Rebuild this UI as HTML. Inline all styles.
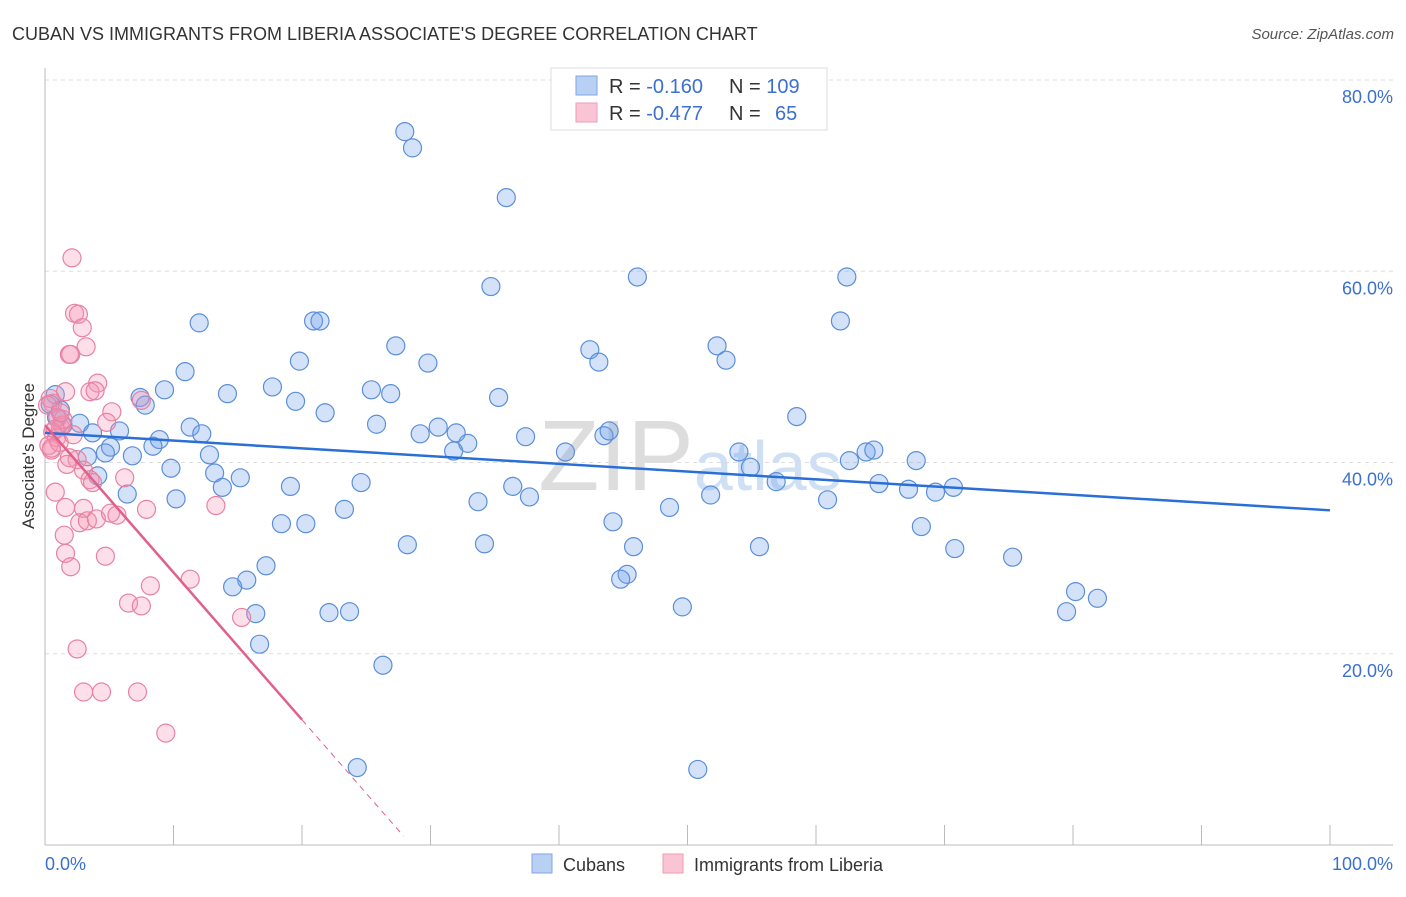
<!DOCTYPE html>
<html><head><meta charset="utf-8"><style>
body{margin:0;background:#fff;font-family:"Liberation Sans",sans-serif}
svg text{font-family:"Liberation Sans",sans-serif}
</style></head><body>
<svg id="chart" width="1406" height="892" xmlns="http://www.w3.org/2000/svg">
<text x="12" y="40" font-size="18" fill="#333">CUBAN VS IMMIGRANTS FROM LIBERIA ASSOCIATE'S DEGREE CORRELATION CHART</text>
<text x="1394" y="39" font-size="15" fill="#555" font-style="italic" text-anchor="end">Source: ZipAtlas.com</text>
<g id="grid"></g>
<text x="690" y="490" font-size="100" fill="#ddd" text-anchor="middle" font-family="Liberation Serif">ZIP<tspan font-size="70" fill="#cfe0f5" font-family="Liberation Sans">atlas</tspan></text>
<g id="pts"></g>
<g id="lines"></g>
<text x="34" y="456" font-size="17" fill="#333" text-anchor="middle" transform="rotate(-90 34 456)">Associate's Degree</text>
<text x="45" y="870" font-size="18" fill="#3b6fd0">0.0%</text>
<text x="1393" y="870" font-size="18" fill="#3b6fd0" text-anchor="end">100.0%</text>
<g>
<rect x="551" y="68" width="276" height="62" fill="#fff" stroke="#ddd"/>
<rect x="576" y="76" width="21" height="19" fill="#b8d0f3" stroke="#7fa6e3"/>
<rect x="576" y="103" width="21" height="19" fill="#f9c5d5" stroke="#ee9db6"/>
<text x="609" y="93" font-size="20" fill="#333">R = <tspan fill="#3b6fd0">-0.160</tspan><tspan x="729">N = </tspan><tspan fill="#3b6fd0">109</tspan></text>
<text x="609" y="120" font-size="20" fill="#333">R = <tspan fill="#3b6fd0">-0.477</tspan><tspan x="729">N = </tspan><tspan x="775" fill="#3b6fd0">65</tspan></text>
</g>
<g>
<rect x="532" y="854" width="20" height="19" fill="#b8d0f3" stroke="#7fa6e3"/>
<text x="563" y="871" font-size="18" fill="#333">Cubans</text>
<rect x="663" y="854" width="20" height="19" fill="#f9c5d5" stroke="#ee9db6"/>
<text x="694" y="871" font-size="18" fill="#333">Immigrants from Liberia</text>
</g>
</svg>
<script>
const yTicks=[20,40,60,80];
const xTickVals=[0,10,20,30,40,50,60,70,80,90,100];
const cubanX=[28.0,28.6,35.9,34.7,46.1,62.4,61.9,12.0,20.9,21.4,27.3,42.4,43.1,52.3,53.0,19.8,29.8,10.9,17.7,14.2,25.4,26.9,9.3,7.4,7.8,19.5,35.3,21.8,58.5,0.8,1.2,0.9,0.4,1.4,2.7,3.7,5.8,5.1,4.7,6.8,8.9,8.4,11.3,12.2,25.8,29.2,30.6,32.0,32.9,31.8,37.4,40.5,43.5,43.9,54.0,54.9,56.9,63.9,64.5,62.6,67.8,3.3,4.1,9.8,12.8,13.2,13.8,15.2,19.1,24.6,36.4,37.7,6.4,10.2,33.7,48.6,51.8,60.9,64.9,67.2,69.3,70.7,18.4,20.3,23.3,44.2,68.2,28.2,34.2,45.8,55.6,70.8,75.3,17.2,15.7,14.6,45.3,44.8,80.2,81.9,79.5,49.6,16.4,22.1,23.7,16.7,26.3,24.3,50.8];
const cubanY=[74.6,72.9,67.7,58.4,59.4,59.4,54.8,54.6,54.8,54.8,52.2,51.8,50.5,52.2,50.7,50.6,50.4,49.5,47.9,47.2,47.6,47.2,47.6,46.8,46.0,46.4,46.8,45.2,44.8,47.1,45.5,44.7,46.1,43.9,44.1,43.1,43.3,41.6,41.0,40.7,42.4,41.7,43.7,43.0,44.0,43.0,43.7,43.1,42.0,41.2,42.7,41.1,42.8,43.3,41.1,39.5,38.0,41.1,41.3,40.2,40.2,40.6,38.6,39.4,40.8,38.9,37.4,38.4,37.5,37.9,37.5,36.4,36.7,36.2,35.9,35.3,36.6,36.1,37.8,37.2,36.9,37.4,33.6,33.6,35.1,33.8,33.3,31.4,31.5,31.2,31.2,31.0,30.1,29.2,27.7,27.0,28.3,27.8,26.5,25.8,24.4,24.9,24.2,24.3,24.4,21.0,18.8,8.1,7.9];
const liberiaX=[2.1,2.3,2.6,2.9,1.9,3.2,2.0,4.1,3.5,3.9,1.6,5.2,4.8,7.5,0.6,1.2,0.5,2.5,1.9,3.0,3.5,3.7,6.2,0.8,1.6,3.0,2.7,3.3,4.0,5.1,5.6,7.9,13.3,1.5,1.6,2.0,4.7,8.2,11.3,6.5,7.5,15.3,2.5,3.0,4.4,7.2,9.4,0.4,0.2,1.0,1.3,0.6,0.9,0.3,1.1,1.4,1.2,0.5,0.8,2.2,1.7];
const liberiaY=[61.4,55.6,55.5,54.1,51.3,52.1,51.3,48.3,47.4,47.5,47.4,45.3,44.2,46.5,46.2,43.7,41.3,40.3,40.5,39.2,38.2,37.9,38.4,36.9,35.3,35.2,33.7,33.9,34.1,34.7,34.5,35.1,35.5,32.4,30.5,29.1,30.2,27.1,27.8,25.3,25.0,23.8,20.5,16.0,16.0,16.0,11.7,46.7,46.0,44.7,43.9,43.2,42.6,41.8,42.1,44.5,45.2,41.5,43.5,42.9,39.8];
const cubanTrend=[43.1,35.0];
const liberiaTrend=[43.9,13.1,20,27.9];
const NS='http://www.w3.org/2000/svg';
const X=v=>45+v*12.85, Y=v=>845-v*9.5625;
function mk(t,a,p){const e=document.createElementNS(NS,t);for(const k in a)e.setAttribute(k,a[k]);p.appendChild(e);return e;}
const grid=document.getElementById('grid');
for(const t of yTicks){
 const l=mk('line',{x1:45,x2:1393,y1:Y(t),y2:Y(t),stroke:'#ddd','stroke-dasharray':'4,4'},grid);
 
 
 const tx=mk('text',{x:1393,y:Y(t)+23,'font-size':18,fill:'#3b6fd0','text-anchor':'end'},grid);
 tx.textContent=t.toFixed(1)+'%';
 
 
}
const ax=mk('line',{x1:45,x2:1393,y1:845,y2:845,stroke:'#bbb'},grid);


const ay=mk('line',{x1:45,x2:45,y1:68,y2:845,stroke:'#bbb'},grid);


for(const v of xTickVals){
 const t=mk('line',{x1:X(v),x2:X(v),y1:825,y2:845,stroke:'#bbb'},grid);
 
 
}
const pts=document.getElementById('pts');
cubanX.forEach((x,i)=>{
 const c=mk('circle',{cx:X(x),cy:Y(cubanY[i]),r:9,fill:'rgba(110,160,235,0.3)',stroke:'#5b8fd9','stroke-width':1.2},pts);
 
 
});
liberiaX.forEach((x,i)=>{
 const c=mk('circle',{cx:X(x),cy:Y(liberiaY[i]),r:9,fill:'rgba(245,150,180,0.3)',stroke:'#e882a3','stroke-width':1.2},pts);
 
 
});
const lines=document.getElementById('lines');
const bl=mk('line',{x1:X(0),y1:Y(cubanTrend[0]),x2:X(100),y2:Y(cubanTrend[1]),stroke:'#2a6fd6','stroke-width':2.5},lines);


const slope=(liberiaTrend[1]-liberiaTrend[0])/liberiaTrend[2];
const pl=mk('line',{x1:X(0),y1:Y(liberiaTrend[0]),x2:X(liberiaTrend[2]),y2:Y(liberiaTrend[1]),stroke:'#e0608a','stroke-width':2.5},lines);


const pd=mk('line',{x1:X(liberiaTrend[2]),y1:Y(liberiaTrend[1]),x2:X(liberiaTrend[3]),y2:Y(liberiaTrend[0]+slope*liberiaTrend[3]),stroke:'#e0608a','stroke-width':1,'stroke-dasharray':'6,5'},lines);


</script>
</body></html>
